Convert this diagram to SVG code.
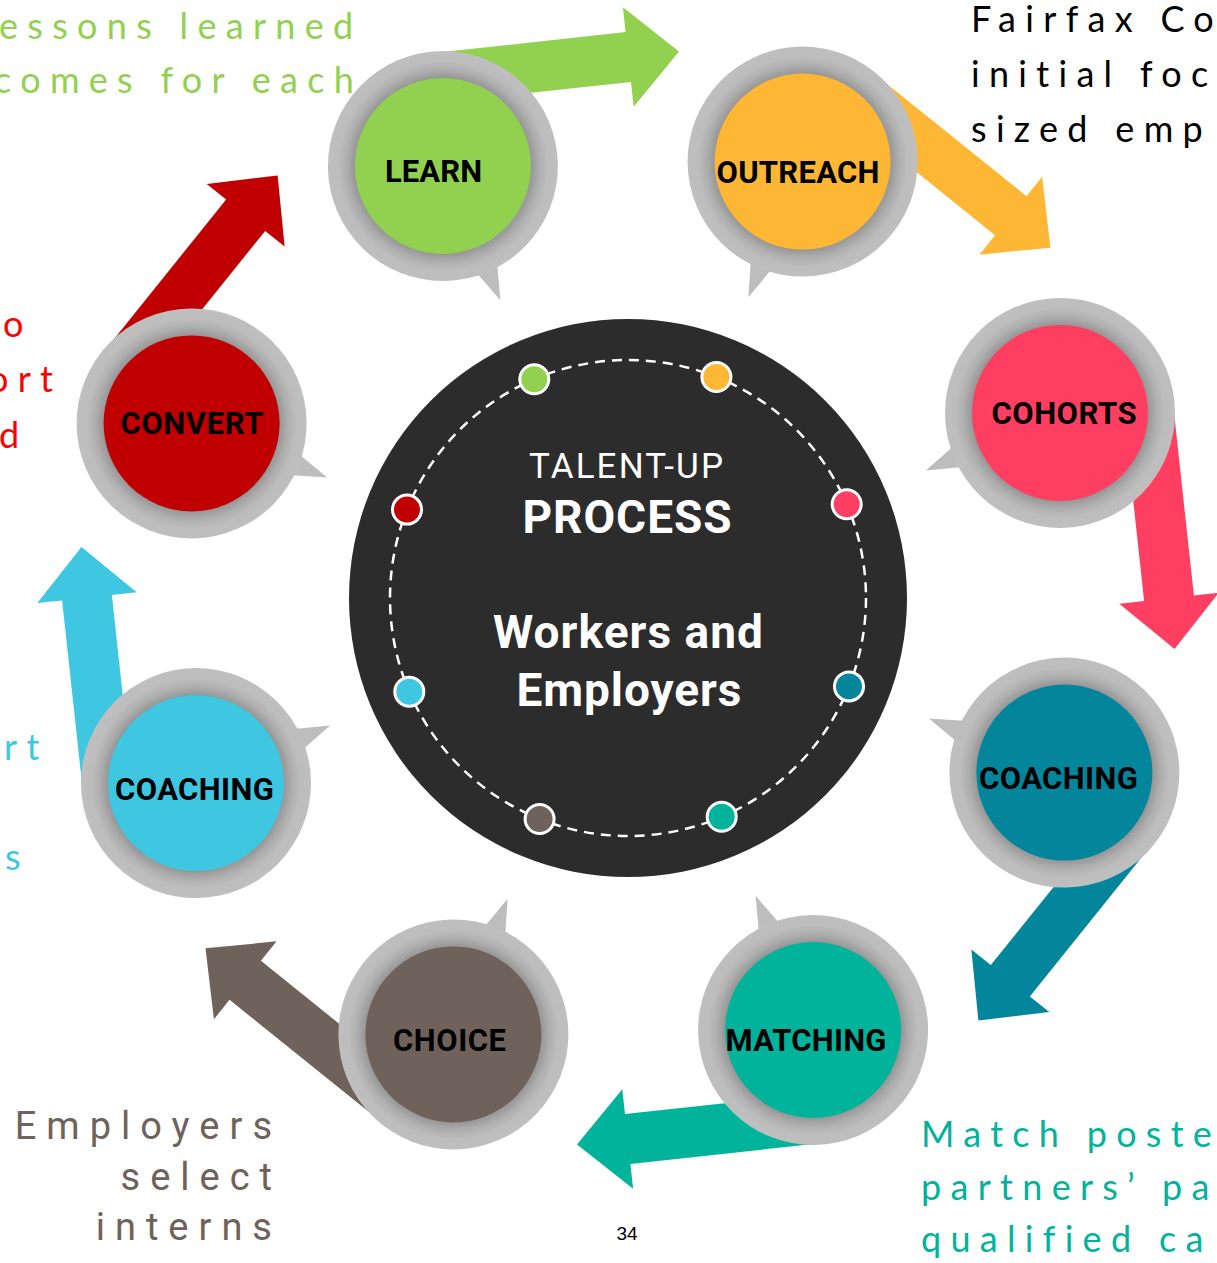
<svg xmlns="http://www.w3.org/2000/svg" xmlns:xlink="http://www.w3.org/1999/xlink" width="1217" height="1263" viewBox="0 0 1217 1263">
  <style>
    .lbl { font-family: Roboto, "Liberation Sans", sans-serif; font-weight: 700; font-size: 31px; fill: #000; text-anchor: middle; }
    .note { font-family: Lato, "Open Sans", sans-serif; font-size: 36px; letter-spacing: 9.3px; }
    .sel { font-family: Roboto, "Liberation Sans", sans-serif; font-size: 38px; letter-spacing: 10px; fill: #6f625a; text-anchor: end; }
    .hub { font-family: Roboto, "Liberation Sans", sans-serif; fill: #fff; text-anchor: middle; }
    .dot { stroke: #fff; stroke-width: 3; }
  </style>
  <defs>
    <!-- grey ring with a soft shadow around the coloured disc -->
    <radialGradient id="ring" gradientUnits="userSpaceOnUse" cx="0" cy="0" r="115">
      <stop offset="0.76" stop-color="#959595"/>
      <stop offset="0.84" stop-color="#afafaf"/>
      <stop offset="0.91" stop-color="#bdbdbd"/>
      <stop offset="1" stop-color="#bfbfbf"/>
    </radialGradient>
    <!-- speech-bubble ring; tail points along +x -->
    <g id="bubble">
      <polygon points="106,-13 146,0 106,13" fill="#bdbdbd"/>
      <circle r="115" fill="url(#ring)"/>
    </g>
    <!-- block arrow leaving the first node, rotated into place for the others -->
    <polygon id="arrow" points="430.6,53.3 625.6,32.1 622.9,7.3 679,51.5 633.7,106.7 631,81.9 436,103 442.9,166"/>
  </defs>

  <rect width="1217" height="1263" fill="#fff"/>

  <!-- side notes -->
  <g id="notes">
    <text class="note" fill="#92d050" x="-1" y="39">essons learned</text>
    <text class="note" fill="#92d050" x="-6" y="93">comes for each</text>
    <text class="note" fill="#000" x="971" y="32">Fairfax Co</text>
    <text class="note" fill="#000" x="971" y="87">initial foc</text>
    <text class="note" fill="#000" x="971" y="142">sized emp</text>
    <text class="note" fill="#ff0000" x="3" y="337">o</text>
    <text class="note" fill="#ff0000" x="-12" y="392">ort</text>
    <text class="note" fill="#ff0000" x="-1" y="448">d</text>
    <text class="note" fill="#3fc7e2" x="4" y="760">rt</text>
    <text class="note" fill="#3fc7e2" x="5" y="870">s</text>
    <text class="note" fill="#02b39c" x="921" y="1147">Match poste</text>
    <text class="note" fill="#02b39c" x="921" y="1200">partners’ pa</text>
    <text class="note" fill="#02b39c" x="921" y="1252">qualified ca</text>
    <text class="sel" x="282" y="1139">Employers</text>
    <text class="sel" x="282" y="1190">select</text>
    <text class="sel" x="282" y="1240">interns</text>
  </g>

  <!-- connectors -->
  <g id="connectors">
    <use xlink:href="#arrow" fill="#92d050"/>
    <use xlink:href="#arrow" fill="#fdb734" transform="rotate(45 628 598)"/>
    <use xlink:href="#arrow" fill="#fe3f61" transform="rotate(90 628 598)"/>
    <use xlink:href="#arrow" fill="#03869b" transform="rotate(135 628 598)"/>
    <use xlink:href="#arrow" fill="#02b39c" transform="rotate(180 628 598)"/>
    <use xlink:href="#arrow" fill="#6f625a" transform="rotate(225 628 598)"/>
    <use xlink:href="#arrow" fill="#3fc7e2" transform="rotate(270 628 598)"/>
    <use xlink:href="#arrow" fill="#c00000" transform="rotate(315 628 598)"/>
  </g>

  <!-- central hub -->
  <g id="hub">
    <circle cx="628" cy="598" r="279" fill="#2c2c2c"/>
    <circle cx="628" cy="598" r="238" fill="none" stroke="#fff" stroke-width="2.5" stroke-dasharray="10 7"/>
    <circle class="dot" cx="534.3" cy="379.3" r="14.5" fill="#92d050"/>
    <circle class="dot" cx="716.4" cy="377" r="14.5" fill="#fdb734"/>
    <circle class="dot" cx="846.7" cy="504.3" r="14.5" fill="#fe3f61"/>
    <circle class="dot" cx="849" cy="686.4" r="14.5" fill="#03869b"/>
    <circle class="dot" cx="721.7" cy="816.7" r="14.5" fill="#02b39c"/>
    <circle class="dot" cx="539.6" cy="819" r="14.5" fill="#6f625a"/>
    <circle class="dot" cx="409.3" cy="691.7" r="14.5" fill="#3fc7e2"/>
    <circle class="dot" cx="407" cy="509.6" r="14.5" fill="#c00000"/>
    <text class="hub" x="626" y="478" font-size="35" textLength="194">TALENT-UP</text>
    <text class="hub" x="627" y="533" font-size="46" font-weight="700" textLength="209">PROCESS</text>
    <text class="hub" x="628" y="648" font-size="46" font-weight="700" textLength="270">Workers and</text>
    <text class="hub" x="629" y="706" font-size="46" font-weight="700" textLength="225">Employers</text>
  </g>

  <!-- process steps -->
  <g id="node-learn">
    <use xlink:href="#bubble" transform="translate(442.9 166) rotate(66.8)"/>
    <circle cx="442.9" cy="166" r="88" fill="#92d050"/>
    <text class="lbl" x="433.5" y="182" textLength="97">LEARN</text>
  </g>
  <g id="node-outreach">
    <use xlink:href="#bubble" transform="translate(802.6 161.6) rotate(111.8)"/>
    <circle cx="802.6" cy="161.6" r="88" fill="#fdb734"/>
    <text class="lbl" x="798" y="183" textLength="163">OUTREACH</text>
  </g>
  <g id="node-cohorts">
    <use xlink:href="#bubble" transform="translate(1060 412.9) rotate(156.8)"/>
    <circle cx="1060" cy="412.9" r="88" fill="#fe3f61"/>
    <text class="lbl" x="1064" y="424" textLength="145">COHORTS</text>
  </g>
  <g id="node-coaching-right">
    <use xlink:href="#bubble" transform="translate(1064.4 772.6) rotate(201.8)"/>
    <circle cx="1064.4" cy="772.6" r="88" fill="#03869b"/>
    <text class="lbl" x="1058.5" y="789" textLength="159">COACHING</text>
  </g>
  <g id="node-matching">
    <use xlink:href="#bubble" transform="translate(813.1 1030) rotate(246.8)"/>
    <circle cx="813.1" cy="1030" r="88" fill="#02b39c"/>
    <text class="lbl" x="806" y="1051" textLength="161">MATCHING</text>
  </g>
  <g id="node-choice">
    <use xlink:href="#bubble" transform="translate(453.4 1034.4) rotate(291.8)"/>
    <circle cx="453.4" cy="1034.4" r="88" fill="#6f625a"/>
    <text class="lbl" x="449.5" y="1051" textLength="113">CHOICE</text>
  </g>
  <g id="node-coaching-left">
    <use xlink:href="#bubble" transform="translate(196 783.1) rotate(336.8)"/>
    <circle cx="196" cy="783.1" r="88" fill="#3fc7e2"/>
    <text class="lbl" x="194.5" y="800" textLength="159">COACHING</text>
  </g>
  <g id="node-convert">
    <use xlink:href="#bubble" transform="translate(191.6 423.4) rotate(21.8)"/>
    <circle cx="191.6" cy="423.4" r="88" fill="#c00000"/>
    <text class="lbl" x="192" y="434" textLength="143">CONVERT</text>
  </g>

  <text x="627" y="1240" font-family="Liberation Sans, sans-serif" font-size="19" text-anchor="middle" fill="#000">34</text>
</svg>
